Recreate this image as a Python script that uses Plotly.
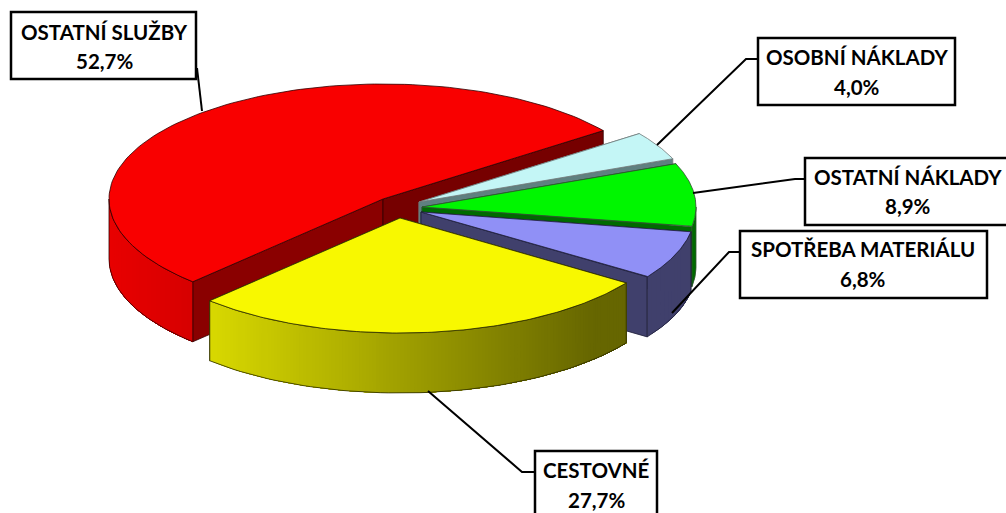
import math
import plotly.graph_objects as go

# ---- data -------------------------------------------------------------
categories = ["OSTATNÍ SLUŽBY", "CESTOVNÉ", "SPOTŘEBA MATERIÁLU", "OSTATNÍ NÁKLADY", "OSOBNÍ NÁKLADY"]
values = [52.7, 27.7, 6.8, 8.9, 4.0]
value_labels = ["52,7%", "27,7%", "6,8%", "8,9%", "4,0%"]

# ---- styles / layout (pixel space of the 1006x513 page) ---------------
top_colors = ["#f90000", "#f8f800", "#9090f6", "#00f600", "#c4f6f6"]
cut_colors = [("#8a0000", "#760000"), ("#c0c000", "#666600"), ("#40406c", "#40406c"),
              ("#006a00", "#006a00"), ("#5f8080", "#5f8080")]
side_grad = [((232, 0, 0), (214, 0, 0)), ((216, 216, 0), (102, 102, 0)), ((64, 64, 108), (64, 64, 108)),
             ((0, 106, 0), (0, 106, 0)), ((95, 128, 128), (95, 128, 128))]
line_colors = ["#300000", "#2a2a00", "#20203a", "#305030", "#707878"]
center = (402.0, 207.0)
explode_dx = [-19, -2, 19, 20, 17]
explode_dy = [-8, 11, 5, 0, -5]
RX, RY, DEPTH = 274.0, 115.0, 60.0
START = 36.5
paint_order = [0, 4, 3, 2, 1]

boxes = [(11, 12, 196, 79), (535, 451, 657, 520), (740, 231, 987, 298), (805, 158, 1014, 225), (758, 38, 955, 105)]
text_x = [104, 596, 863, 908, 857]
text_y = [(32, 61), (470, 500), (249, 279), (177, 206), (57, 87)]
leaders = [
    [(197, 68), (202, 111)],
    [(535, 472), (522, 472), (428, 391)],
    [(740, 252), (729, 252), (672, 313)],
    [(805, 179), (795, 179), (693, 193)],
    [(758, 59), (746, 59), (657, 145)],
]

fig = go.Figure()


def poly(xs, ys, fill, line=None, width=0.8):
    fig.add_trace(go.Scatter(x=xs, y=ys, mode="lines", fill="toself", fillcolor=fill,
                             line=dict(color=line or fill, width=width), hoverinfo="skip", showlegend=False))


def band(xs, ys, fill):
    fig.add_trace(go.Scatter(x=xs, y=ys, mode="none", fill="toself", fillcolor=fill,
                             hoverinfo="skip", showlegend=False))


def mix(c0, c1, f):
    f = max(0.0, min(1.0, f))
    return "rgb(%d,%d,%d)" % tuple(round(a + (b - a) * f) for a, b in zip(c0, c1))


# slice angles from the values
total = sum(values)
angles = []
a0 = START
for v in values:
    a1 = a0 + v / total * 360.0
    angles.append((a0, a1))
    a0 = a1

for i in paint_order:
    t0, t1 = angles[i]
    ax = center[0] + explode_dx[i]
    ay = center[1] + explode_dy[i]
    px = lambda t: ax + RX * math.cos(math.radians(t))
    py = lambda t: ay - RY * math.sin(math.radians(t))
    lc = line_colors[i]
    # the two cut faces
    for t, col in ((t1, cut_colors[i][0]), (t0, cut_colors[i][1])):
        poly([ax, px(t), px(t), ax, ax], [ay, py(t), py(t) + DEPTH, ay + DEPTH, ay], col, lc)
    # the outer rim: only the part facing the viewer
    vis = []
    for lo, hi in ((180, 360), (540, 720)):
        s, e = max(t0, lo), min(t1, hi)
        if e > s:
            vis.append((s, e))
    for s, e in vis:
        x_a, x_b = px(s), px(e)
        step = max(1, int(abs(x_b - x_a) / 3))
        for k in range(step):
            # every band reaches to the rim's end; the next band paints over it, so no seams
            u0 = s + (e - s) * k / step
            m = 40
            us = [u0 + (e - u0) * j / m for j in range(m + 1)]
            xs = [px(u) for u in us] + [px(u) for u in reversed(us)]
            ys = [py(u) for u in us] + [py(u) + DEPTH for u in reversed(us)]
            xmid = px(u0)
            f = (xmid - min(x_a, x_b)) / max(1.0, abs(x_b - x_a))
            if i == 1:
                f = f / 0.92
            band(xs, ys, mix(side_grad[i][0], side_grad[i][1], f))
        n = 60
        us = [s + (e - s) * j / n for j in range(n + 1)]
        fig.add_trace(go.Scatter(
            x=[px(u) for u in us] + [px(e), None, px(s), px(s)] + [None] + [px(u) for u in us],
            y=[py(u) + DEPTH for u in us] + [py(e), None, py(s), py(s) + DEPTH] + [None] + [py(u) for u in us],
            mode="lines", line=dict(color=lc, width=0.8), hoverinfo="skip", showlegend=False))
    # top surface
    n = 120
    us = [t0 + (t1 - t0) * j / n for j in range(n + 1)]
    poly([ax] + [px(u) for u in us] + [ax], [ay] + [py(u) for u in us] + [ay], top_colors[i], lc)

# leader lines
for pts in leaders:
    fig.add_trace(go.Scatter(x=[p[0] for p in pts], y=[p[1] for p in pts], mode="lines",
                             line=dict(color="#000000", width=2), hoverinfo="skip", showlegend=False))

shapes = []
annotations = []
for name, lab, b, tx, ty in zip(categories, value_labels, boxes, text_x, text_y):
    shapes.append(dict(type="rect", xref="x", yref="y", x0=b[0], y0=b[1], x1=b[2], y1=b[3],
                       line=dict(color="#000000", width=2.5), fillcolor="#ffffff", layer="above"))
    for txt, y in zip((name, lab), ty):
        annotations.append(dict(x=tx, y=y, xref="x", yref="y", text="<b>%s</b>" % txt, showarrow=False,
                                xanchor="center", yanchor="middle",
                                font=dict(family="Lato", size=20.5, color="#000000")))

fig.update_layout(
    width=1006, height=513, margin=dict(l=0, r=0, t=0, b=0),
    paper_bgcolor="#ffffff", plot_bgcolor="#ffffff", showlegend=False,
    xaxis=dict(range=[0, 1006], visible=False, fixedrange=True),
    yaxis=dict(range=[513, 0], visible=False, fixedrange=True),
    shapes=shapes, annotations=annotations,
)

fig.write_html("out.html", config={"displayModeBar": False},
               post_script="document.body.style.margin='0';document.body.style.overflow='hidden';")
